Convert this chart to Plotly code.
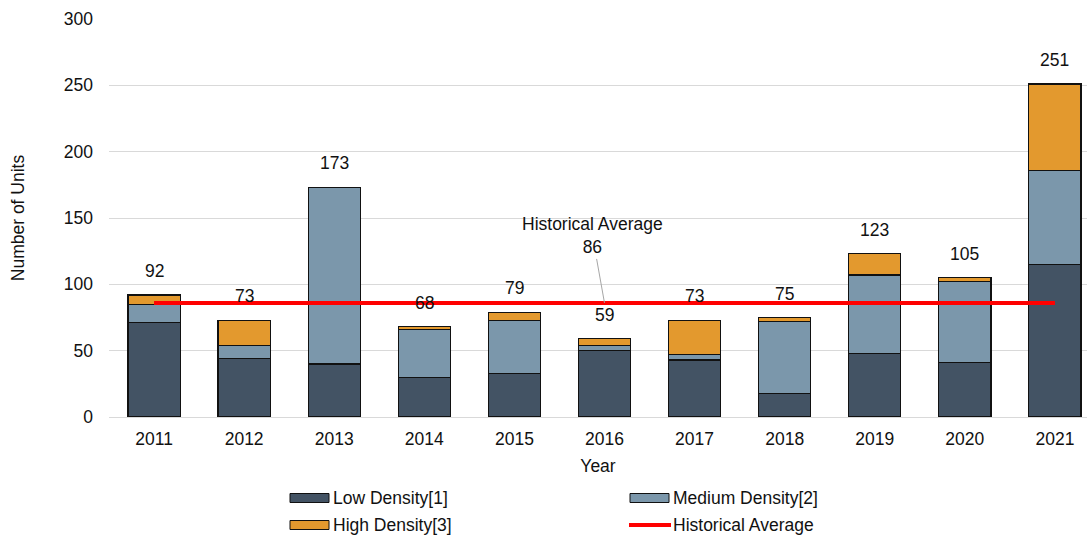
import plotly.graph_objects as go

years = ["2011", "2012", "2013", "2014", "2015", "2016", "2017", "2018", "2019", "2020", "2021"]
low = [71, 44, 40, 30, 33, 50, 43, 18, 48, 41, 115]
medium = [14, 10, 133, 36, 40, 4, 4, 54, 59, 61, 71]
high = [7, 19, 0, 2, 6, 5, 26, 3, 16, 3, 65]
totals = [92, 73, 173, 68, 79, 59, 73, 75, 123, 105, 251]
hist_avg = 86
avg_label_year = "2016"

series_names = ["Low Density[1]", "Medium Density[2]", "High Density[3]"]
series_colors = ["#435364", "#7b97ab", "#e3992e"]
avg_name = "Historical Average"
avg_color = "#ff0000"

FONT = "Liberation Sans, Arial, sans-serif"
FS = 17.5
W, H = 1087, 535
ML, MR, MT, MB = 109, 0, 19, 118
PW, PH = W - ML - MR, H - MT - MB


def px_x(px):
    return (px - ML) / PW


def px_y(py):
    return (H - MB - py) / PH


fig = go.Figure()
for name, vals, col in zip(series_names, [low, medium, high], series_colors):
    fig.add_trace(go.Bar(x=years, y=vals, name=name, width=0.58,
                         marker=dict(color=col, line=dict(color="#111111", width=1.2))))

fig.add_trace(go.Scatter(x=years, y=[hist_avg] * len(years), mode="lines",
                         name=avg_name, line=dict(color=avg_color, width=4)))

for i, t in enumerate(totals):
    fig.add_annotation(x=i, y=t, text=str(t), showarrow=False, yanchor="bottom",
                       yshift=12, font=dict(size=FS, color="#111111", family=FONT))

fig.add_annotation(x=years.index(avg_label_year), y=hist_avg,
                   text=f"{avg_name}<br>{hist_avg}",
                   showarrow=True, arrowhead=0, arrowwidth=1, arrowcolor="#a6a6a6",
                   ax=-12, ay=-67, font=dict(size=FS, color="#111111", family=FONT))

# manual legend (2 columns x 2 rows)
legend_items = [
    (series_names[0], series_colors[0], "box", 290, 498),
    (series_names[1], series_colors[1], "box", 630, 498),
    (series_names[2], series_colors[2], "box", 290, 525),
    (avg_name, avg_color, "line", 630, 525),
]
for name, col, kind, lx, ly in legend_items:
    if kind == "box":
        fig.add_shape(type="rect", xref="paper", yref="paper",
                      x0=px_x(lx), x1=px_x(lx + 39), y0=px_y(ly + 4.5), y1=px_y(ly - 4.5),
                      fillcolor=col, line=dict(color="#111111", width=1))
    else:
        fig.add_shape(type="line", xref="paper", yref="paper",
                      x0=px_x(lx - 1), x1=px_x(lx + 41), y0=px_y(ly), y1=px_y(ly),
                      line=dict(color=col, width=4))
    fig.add_annotation(xref="paper", yref="paper", x=px_x(lx + 41), y=px_y(ly),
                       text=name, showarrow=False, xanchor="left", yanchor="middle",
                       font=dict(size=FS, color="#111111", family=FONT))

fig.update_layout(
    barmode="stack",
    width=W, height=H,
    margin=dict(l=ML, r=MR, t=MT, b=MB),
    plot_bgcolor="white", paper_bgcolor="white",
    font=dict(family=FONT, size=FS, color="#111111"),
    showlegend=False,
    xaxis=dict(type="category", range=[-0.5, 10.356], showgrid=False, automargin=False,
               showline=False, ticks="", ticklabelstandoff=9,
               title=dict(text="Year", standoff=12, font=dict(size=FS))),
    yaxis=dict(range=[0, 300], dtick=50, showgrid=True, gridcolor="#d9d9d9", gridwidth=1,
               zeroline=True, zerolinecolor="#d9d9d9", zerolinewidth=1, showline=False,
               ticks="", ticklabelstandoff=15, automargin=False,
               title=dict(text="Number of Units", standoff=34, font=dict(size=FS))),
)

fig.write_html("out.html", config={"displayModeBar": False},
               post_script="document.body.style.margin='0';document.body.style.overflow='hidden';")
